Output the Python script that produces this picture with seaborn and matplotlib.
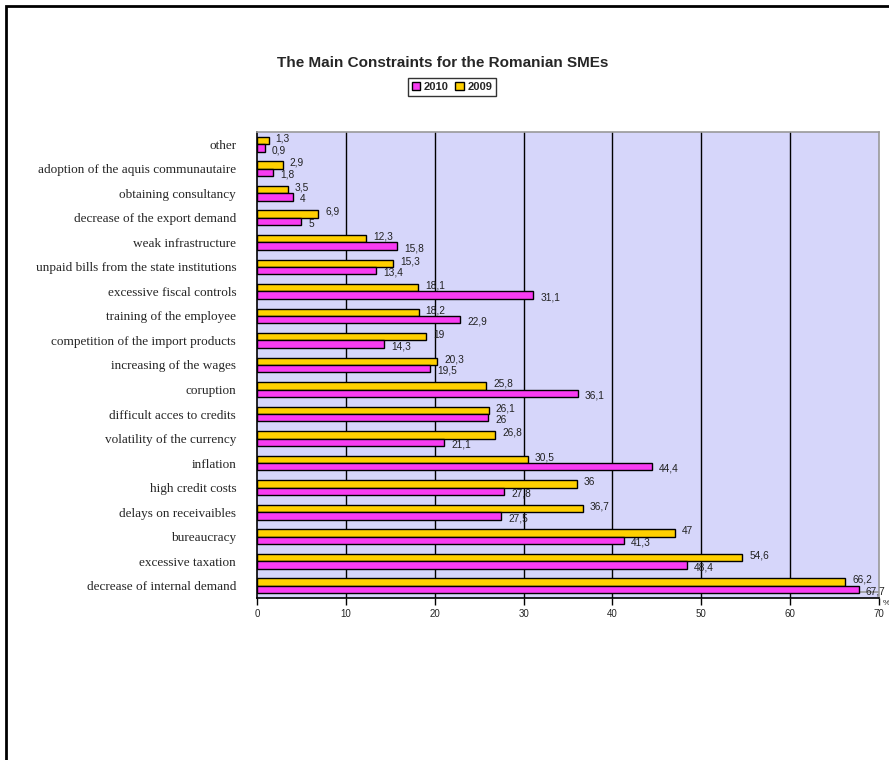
import matplotlib
matplotlib.use("Agg")
import matplotlib.pyplot as plt
from matplotlib.patches import Rectangle, Patch
import seaborn as sns
import pandas as pd
import numpy as np

categories = [
    "other",
    "adoption of the aquis communautaire",
    "obtaining consultancy",
    "decrease of the export demand",
    "weak infrastructure",
    "unpaid bills from the state institutions",
    "excessive fiscal controls",
    "training of the employee",
    "competition of the import products",
    "increasing of the wages",
    "coruption",
    "difficult acces to credits",
    "volatility of the currency",
    "inflation",
    "high credit costs",
    "delays on receivaibles",
    "bureaucracy",
    "excessive taxation",
    "decrease of internal demand",
]
values_2009 = [1.3, 2.9, 3.5, 6.9, 12.3, 15.3, 18.1, 18.2, 19, 20.3, 25.8, 26.1,
               26.8, 30.5, 36, 36.7, 47, 54.6, 66.2]
values_2010 = [0.9, 1.8, 4, 5, 15.8, 13.4, 31.1, 22.9, 14.3, 19.5, 36.1, 26,
               21.1, 44.4, 27.8, 27.5, 41.3, 48.4, 67.7]
years = ["2009", "2010"]
x_ticks = [0, 10, 20, 30, 40, 50, 60, 70]

colors = {"2010": "#F83CF2", "2009": "#FFD000"}

df = pd.DataFrame({
    "category": categories * 2,
    "year": ["2009"] * len(categories) + ["2010"] * len(categories),
    "value": values_2009 + values_2010,
})

sns.set_style("white")
fig = plt.figure(figsize=(8.89, 7.6), dpi=100)
W, H = 889, 760
ax = fig.add_axes([257 / W, 1 - 598 / H, 622 / W, (598 - 132) / H])
ax.set_facecolor("#D6D6FA")

sns.barplot(data=df, y="category", x="value", hue="year", hue_order=years,
            order=categories, palette=colors, orient="h", width=0.6,
            saturation=1, edgecolor="black", linewidth=1.0, ax=ax,
            legend=False, zorder=3)

ax.set_xlim(0, 70)
ax.set_ylim(len(categories) - 0.5, -0.5)
ax.set_xlabel("")
ax.set_ylabel("")

# vertical grid lines
for xv in x_ticks[1:-1]:
    ax.axvline(xv, color="black", lw=1.0, zorder=1)

# value labels (2009 slightly raised, 2010 slightly lowered)
for cont, yr in zip(ax.containers, years):
    labels = [("%g" % v).replace(".", ",") for v in cont.datavalues]
    texts = ax.bar_label(cont, labels=labels, padding=5, fontsize=7.3,
                         family="Liberation Sans", color="#222222")
    dy = -0.09 if yr == "2009" else 0.09
    for t in texts:
        x0, y0 = t.xy
        t.xy = (x0, y0 + dy)

ax.set_xticks(x_ticks)
ax.set_xticklabels([str(t) for t in x_ticks], fontsize=7, family="Liberation Sans")
ax.set_yticks(range(len(categories)))
ax.set_yticklabels(categories, fontsize=9.5, family="Liberation Serif")
ax.set_yticks(np.arange(-0.5, len(categories), 1.0), minor=True)
ax.tick_params(axis="y", which="major", length=0, pad=15)
ax.tick_params(axis="y", which="minor", length=8, width=1, color="black", direction="out")
ax.tick_params(axis="x", which="major", length=5, width=1, color="black",
               direction="out", pad=3)
ax.tick_params(left=True, bottom=True)

for s in ["left", "bottom"]:
    ax.spines[s].set_color("black")
    ax.spines[s].set_linewidth(1.2)
for s in ["top", "right"]:
    ax.spines[s].set_color("#999999")
    ax.spines[s].set_linewidth(1.2)
ax.axhline(len(categories) - 0.5 - 0.25, color="#999999", lw=1.2, zorder=2)

ax.text(1.006, -0.004, "%", transform=ax.transAxes, fontsize=6,
        family="Liberation Sans", va="top", ha="left")

fig.text(443 / W, 1 - 63 / H, "The Main Constraints for the Romanian SMEs",
         ha="center", va="center", fontsize=11, fontweight="bold",
         family="Liberation Sans")

handles = [Patch(facecolor=colors["2010"], edgecolor="black", label="2010"),
           Patch(facecolor=colors["2009"], edgecolor="black", label="2009")]
leg = fig.legend(handles=handles, loc="center", bbox_to_anchor=(452 / W, 1 - 87 / H),
                 ncol=2, frameon=True, fancybox=False, edgecolor="black",
                 prop={"family": "Liberation Sans", "weight": "bold", "size": 8},
                 handlelength=0.8, handleheight=0.8, handletextpad=0.3,
                 columnspacing=0.6, borderpad=0.35)
leg.get_frame().set_linewidth(1.0)

fig.add_artist(Rectangle((6 / W, -0.1), 1.2, 1 - 6 / H + 0.1,
                         transform=fig.transFigure, fill=False,
                         edgecolor="black", linewidth=2))

fig.savefig("out.png", dpi=100)
